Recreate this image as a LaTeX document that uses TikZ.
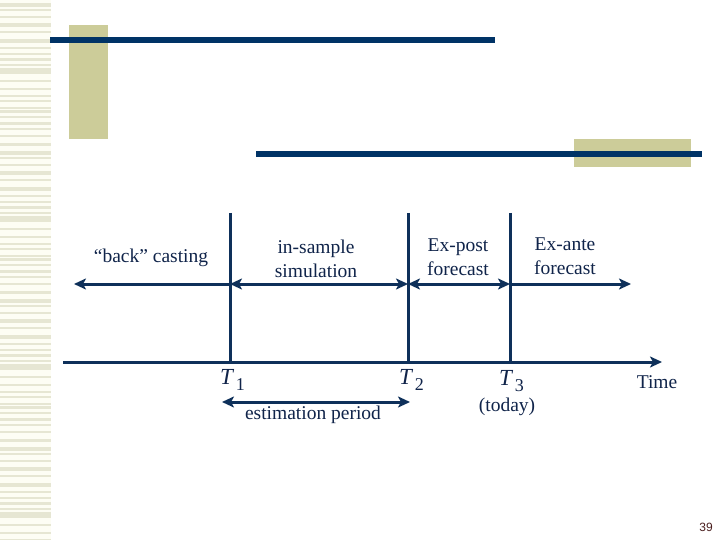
\documentclass[tikz,border=0pt]{standalone}
\usepackage{fontspec}
\setmainfont{Liberation Serif}
\newfontfamily\numfont{Liberation Sans}
\usetikzlibrary{arrows.meta}
\definecolor{navy}{HTML}{003366}
\definecolor{linec}{HTML}{0E305A}
\definecolor{txtc}{HTML}{10244A}
\definecolor{olive}{HTML}{CCCC99}
\definecolor{stripe}{HTML}{E6E6D3}
\definecolor{stripebg}{HTML}{FDFDF4}
\definecolor{pagenum}{HTML}{4A1E1E}
\newcommand\Tlab[1]{{\itshape T}\hspace{3pt}\raisebox{-6pt}{\fontsize{18}{18}\selectfont #1}}
\begin{document}
\begin{tikzpicture}[x=1pt,y=-1pt,
  tl/.style={line width=3pt,draw=linec},
  tipR/.style={-{Stealth[length=12pt,width=11pt,inset=3pt]}},
  tipLR/.style={{Stealth[length=12pt,width=11pt,inset=3pt]}-{Stealth[length=12pt,width=11pt,inset=3pt]}},
  lbl/.style={text=txtc,font=\fontsize{19.5}{24}\selectfont,align=center,inner sep=0pt},
  tlab/.style={text=txtc,font=\fontsize{23}{23}\selectfont,anchor=base west,inner sep=0pt}
]
\useasboundingbox (0,0) rectangle (720,540);
\fill[white] (0,0) rectangle (720,540);
% striped border
\begin{scope}
\clip (0,0) rectangle (51,540);
\fill[stripebg] (0,0) rectangle (51,540);
\foreach \p in {0,148,296,444}{
  \foreach \a/\h in {3/4,9/2,16/2,23/4,31/2,39/4,47/2,53/2,58/3,64/2,68/6,80/2,88/2,95/2,100/2,107/2,110/3,116/2,122/3,128/2,135/2,143/3}{
    \fill[stripe] (0,{\p+\a}) rectangle (51,{\p+\a+\h});
  }
}
\end{scope}
% decorative bars
\fill[olive] (69,25) rectangle (108,139);
\fill[navy] (50,37) rectangle (495,43);
\fill[olive] (574,139) rectangle (691,167);
\fill[navy] (256,151) rectangle (702,157);
% coordinates
\coordinate (axS) at (63,362);
\coordinate (axE) at (662,362);
\coordinate (v1t) at (230,213);
\coordinate (v1b) at (230,362);
\coordinate (v2t) at (408,213);
\coordinate (v2b) at (408,362);
\coordinate (v3t) at (510,213);
\coordinate (v3b) at (510,362);
\coordinate (a0) at (74,284);
\coordinate (a1) at (230,284);
\coordinate (a2) at (408,284);
\coordinate (a3) at (510,284);
\coordinate (a4) at (631,284);
\coordinate (e1) at (222,402);
\coordinate (e2) at (410,402);
% timeline
\draw[tl,tipR] (axS) -- (axE);
\draw[tl] (v1t) -- (v1b);
\draw[tl] (v2t) -- (v2b);
\draw[tl] (v3t) -- (v3b);
\draw[tl,tipR] (a1) -- (a0);
\draw[tl,tipLR] (a1) -- (a2);
\draw[tl,tipLR] (a2) -- (a3);
\draw[tl,tipR] (a3) -- (a4);
\draw[tl,tipLR] (e1) -- (e2);
% labels
\node[lbl] (back) at (151,258) {“back” casting};
\node[lbl] (insam) at (316,259) {in-sample\\simulation};
\node[lbl] (expost) at (458,257) {Ex-post\\forecast};
\node[lbl] (exante) at (565,256) {Ex-ante\\forecast};
\node[tlab] (T1) at (220,384) {\Tlab{1}};
\node[tlab] (T2) at (399,384) {\Tlab{2}};
\node[tlab] (T3) at (499,385) {\Tlab{3}};
\node[lbl] (today) at (507,407) {(today)};
\node[lbl] (time) at (657,382) {Time};
\node[lbl] (est) at (313,415) {estimation period};
\node[text=pagenum,font=\numfont\fontsize{12}{12}\selectfont,inner sep=0pt] (pg) at (706,527) {39};
\end{tikzpicture}
\end{document}
